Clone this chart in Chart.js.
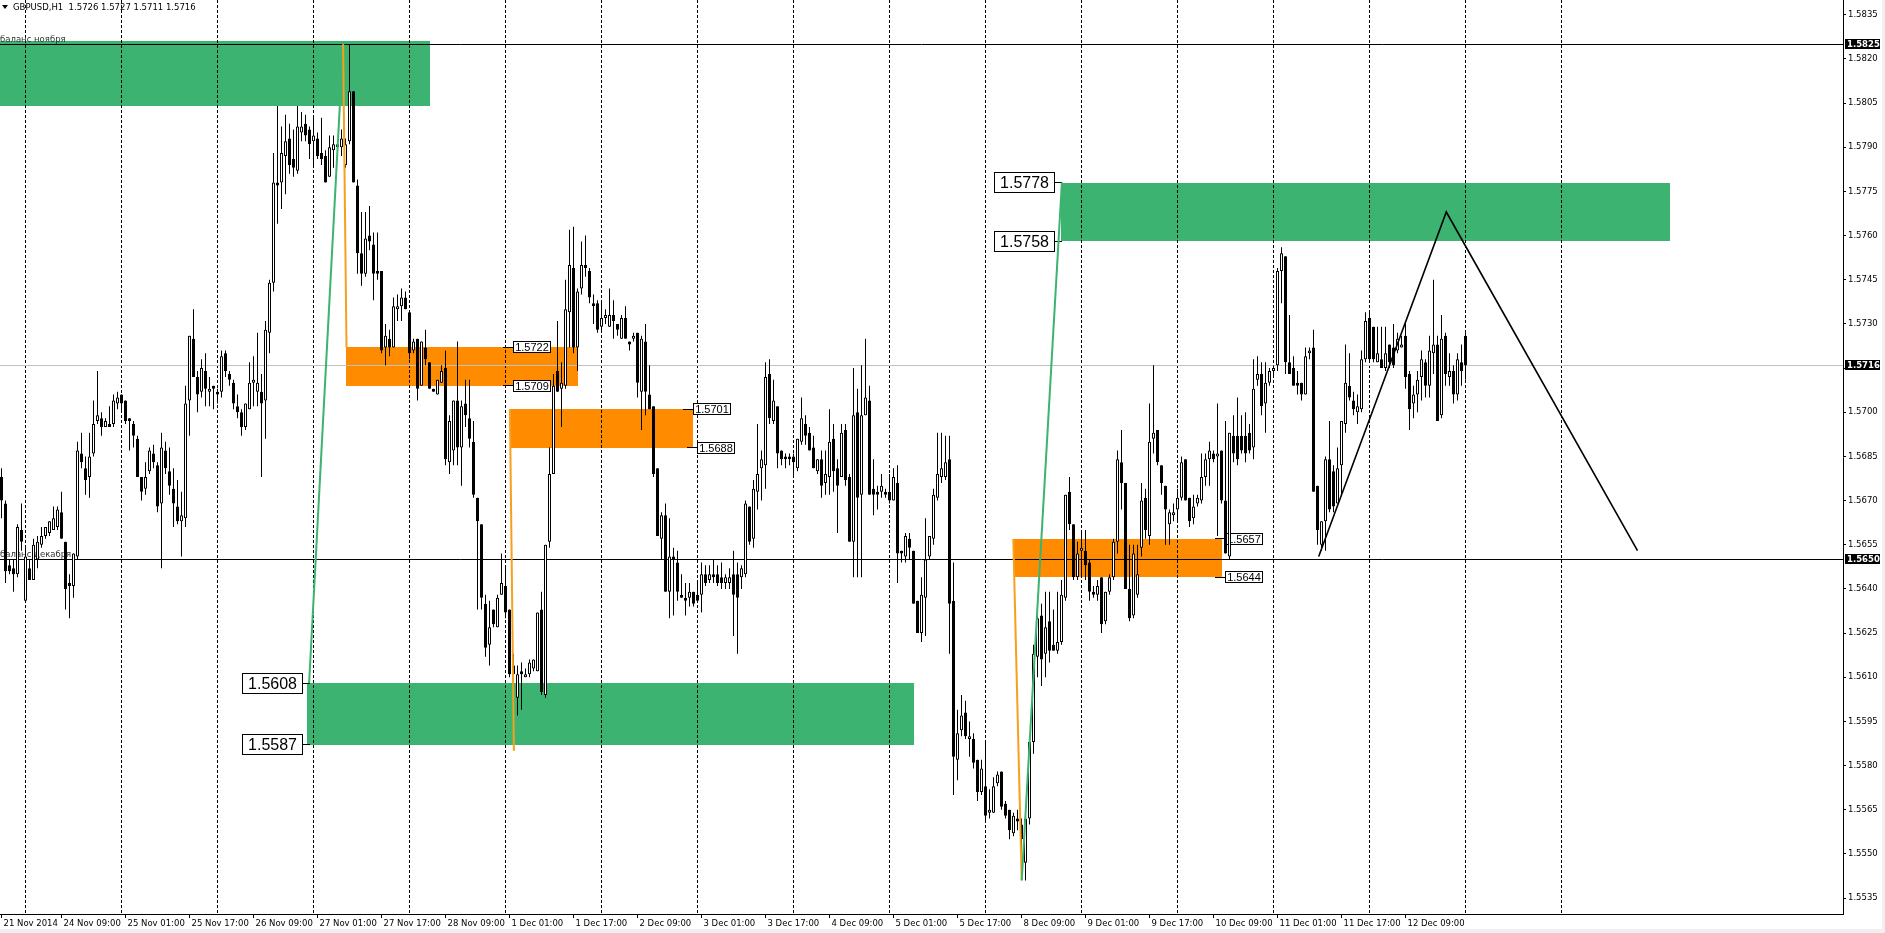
<!DOCTYPE html>
<html>
<head>
<meta charset="utf-8">
<script src="https://cdn.jsdelivr.net/npm/chart.js@4.4.1/dist/chart.umd.min.js"></script>
<style>
html, body { margin: 0; padding: 0; background: #f0f0f0; }
#wrap { width: 1885px; height: 933px; }
canvas { display: block; }
</style>
</head>
<body>
<div id="wrap"><canvas id="chart" width="1885" height="933" style="width:1885px;height:933px"></canvas></div>
<script>
// GBPUSD H1, 21 Nov 2014 - 12 Dec 2014
// цены свечей записаны в пунктах над 1.5500 (178 -> 1.5678)
const symbolName = 'GBPUSD,H1';
const PRICE_BASE = 1.55;
const PIP = 0.0001;

const openPips = [
    178,169,148,147,145,160,136,147,143,150, 155,158,159,160,161,166,156,142,141,151,
    186,181,178,186,197,198,195,196,196,203, 206,204,198,196,191,178,174,180,186,182,
    169,187,180,174,168,163,164,204,225,212, 207,214,207,209,207,207,220,213,210,202,
    200,195,201,210,207,207,204,227,244,278, 278,287,293,286,282,295,298,296,292,293,
    288,287,280,289,290,290,284,292,309,277, 254,247,260,257,248,248,222,225,222,235,
    236,239,234,221,225,209,222,217,208,206, 210,215,183,187,204,188,203,198,190,171,
    162,135,121,133,127,138,141,133,114,103, 112,110,111,113,112,133,104,156,179,214,
    208,209,234,249,222,242,250,248,237,237, 229,232,229,233,230,225,232,224,225,227,
    207,224,206,202,181,157,165,139,151,149, 138,137,137,139,138,138,145,143,145,145,
    144,142,142,145,145,144,145,168,157,173, 181,182,213,197,202,187,185,185,185,181,
    190,196,193,188,180,184,176,178,191,181, 178,194,178,156,200,172,199,204,174,173,
    173,173,173,170,176,153,151,157,153,136, 125,137,151,157,171,178,178,184,136,82,
    92,98,89,89,82,71,73,64,64,74, 78,67,65,57,62,60,47,62,88,117,
    131,118,129,121,119,122,137,173,162,144, 153,153,149,139,138,144,129,139,144,156,
    183,176,140,131,138,154,171,158,191,194, 182,175,162,165,167,171,184,171,164,169,
    170,178,184,186,185,187,170,151,192,192, 192,192,193,188,211,213,203,210,214,216,
    248,253,217,215,210,210,206,220,222,175, 155,163,184,180,169,182,196,209,204,200,
    201,218,232,229,217,218,215,223,222,221, 222,226,213,203,206,212,217,209,220,223,
    199,226,212,214,206,217,226
];
const highPips = [
    181,170,150,150,162,169,154,150,157,158, 161,161,163,168,168,173,156,145,152,190,
    193,185,193,204,214,200,198,202,206,207, 206,204,198,197,192,178,183,188,189,183,
    193,190,188,181,177,173,209,226,235,214, 218,220,212,209,208,221,221,214,211,206,
    201,203,217,219,227,213,231,245,288,304, 297,301,298,296,304,302,301,297,300,295,
    300,289,294,294,292,296,293,325,309,279, 268,268,270,261,261,248,230,228,239,240,
    242,241,234,225,225,224,228,217,208,211, 216,221,199,204,224,204,211,211,197,171,
    162,138,136,133,138,152,148,133,118,114, 115,113,116,116,132,139,155,188,213,231,
    217,245,262,263,242,258,260,249,240,238, 238,235,242,238,230,233,236,224,227,227,
    226,230,216,202,181,166,169,164,154,153, 145,142,142,139,142,149,148,148,150,148,
    149,145,147,153,149,148,170,168,177,196, 187,217,218,211,202,187,186,186,186,191,
    205,199,195,192,184,187,187,201,196,184, 196,196,179,215,208,216,225,209,184,175,
    179,174,179,181,182,153,159,159,153,136, 144,164,158,174,193,193,192,192,149,99,
    104,102,95,91,82,82,88,72,76,78, 78,68,65,64,65,62,66,90,121,131,
    135,139,139,133,139,143,172,178,162,156, 160,160,150,141,143,144,139,145,157,187,
    194,176,155,155,155,176,174,203,216,194, 182,175,167,169,174,185,184,171,172,172,
    186,186,190,187,203,187,197,193,199,205, 199,200,196,218,219,217,217,215,216,249,
    256,253,233,219,214,210,222,222,228,175, 163,185,197,182,188,197,223,220,207,206,
    221,234,234,229,229,229,229,223,230,227, 226,231,214,209,214,221,218,226,245,226,
    233,227,220,216,220,223,227
];
const lowPips = [
    164,142,145,139,144,153,136,143,143,147, 154,157,158,160,160,157,133,130,137,150,
    181,172,171,185,196,192,195,195,195,201, 200,196,187,188,178,170,172,179,181,166,
    147,179,172,161,162,151,161,192,212,200, 205,202,202,201,203,205,212,209,201,198,
    192,194,201,202,202,178,191,220,241,264, 269,274,281,280,281,292,292,286,284,286,
    284,278,280,283,286,287,283,291,278,247, 243,246,255,238,245,220,216,219,222,231,
    231,235,218,220,204,209,216,208,207,206, 210,182,179,182,182,175,195,188,171,133,
    133,117,114,127,127,138,130,110,99,97, 99,110,110,112,112,104,103,154,179,207,
    195,208,222,220,214,240,246,237,230,227, 227,230,229,225,226,225,225,221,224,205,
    194,199,201,178,158,150,139,130,131,136, 137,131,134,134,136,132,141,142,142,141,
    140,140,140,124,118,140,144,155,154,167, 170,174,196,196,181,182,181,182,178,180,
    189,189,187,181,179,171,172,172,173,159, 178,175,156,144,144,144,199,172,165,167,
    171,171,169,170,142,149,149,150,135,125, 122,124,150,155,170,176,177,118,70,75,
    90,89,83,79,68,70,61,62,64,73, 65,62,55,56,58,51,41,60,84,110,
    107,110,115,119,118,121,136,160,143,143, 144,143,136,137,136,125,128,138,143,152,
    167,140,129,130,137,151,157,155,186,182, 172,155,155,163,163,170,170,161,162,168,
    169,175,175,183,158,169,152,150,183,182, 186,183,186,184,209,199,193,209,212,214,
    237,213,213,209,206,204,206,218,173,155, 153,153,166,166,169,172,193,204,199,196,
    200,217,217,217,217,215,214,215,215,220, 222,208,194,198,200,204,205,205,213,197,
    198,209,209,203,204,209,211
];
const closePips = [
    170,146,146,145,161,156,151,143,155,156, 158,161,163,164,167,157,140,141,152,187,
    183,177,185,196,199,195,197,195,204,205, 203,197,197,192,178,173,178,187,183,168,
    188,181,175,169,163,165,203,226,212,206, 215,208,208,208,206,219,214,211,203,200,
    195,203,210,211,210,203,228,244,278,277, 288,292,284,283,297,297,294,291,294,287,
    286,278,290,291,291,293,291,309,278,254, 247,259,258,247,247,221,226,222,236,236,
    239,235,220,224,208,224,218,208,207,211, 214,184,197,204,188,202,199,191,172,163,
    137,120,127,128,137,142,132,111,111,111, 111,111,115,116,132,105,155,179,209,207,
    210,235,250,222,241,250,249,239,236,228, 232,233,233,231,228,232,225,223,226,210,
    225,207,201,179,158,165,139,151,150,139, 137,136,139,135,136,145,142,145,144,142,
    142,144,144,138,137,147,169,156,174,179, 184,212,198,204,186,184,184,184,183,191,
    198,192,187,181,184,175,179,190,180,175, 193,177,156,199,171,199,205,172,172,172,
    175,172,170,178,152,152,158,154,135,125, 138,150,158,172,179,181,183,135,83,91,
    97,90,90,81,71,79,63,65,73,77, 66,63,58,63,61,55,62,88,118,130,
    116,127,119,119,122,138,172,162,144,152, 154,148,139,138,141,128,139,144,156,184,
    176,140,130,152,145,170,160,190,193,183, 176,167,166,166,171,183,170,163,168,171,
    178,184,187,184,186,170,152,193,186,184, 187,186,187,208,213,202,210,214,215,248,
    254,217,213,209,209,206,219,221,173,160, 163,184,167,168,181,197,210,205,201,202,
    218,231,218,218,220,215,220,217,216,225, 223,212,201,206,211,218,209,221,223,197,
    225,213,214,206,218,214,216
];

// шкала времени: номер бара -> подпись
const timeLabels = ['21 Nov 2014', '24 Nov 09:00', '25 Nov 01:00', '25 Nov 17:00', '26 Nov 09:00',
    '27 Nov 01:00', '27 Nov 17:00', '28 Nov 09:00', '1 Dec 01:00', '1 Dec 17:00', '2 Dec 09:00',
    '3 Dec 01:00', '3 Dec 17:00', '4 Dec 09:00', '5 Dec 01:00', '5 Dec 17:00', '8 Dec 09:00',
    '9 Dec 01:00', '9 Dec 17:00', '10 Dec 09:00', '11 Dec 01:00', '11 Dec 17:00', '12 Dec 09:00'];
const timeLabelBars = [0, 15, 31, 47, 63, 79, 95, 111, 127, 143, 159, 175, 191, 207, 223, 239, 255, 271, 287, 303, 319, 335, 351];
const dayStartBars = [6, 30, 54, 78, 102, 126, 150, 174, 198, 222, 246, 270, 294, 318, 342, 366, 390];

// шкала цен
const priceTicks = [1.5535, 1.5550, 1.5565, 1.5580, 1.5595, 1.5610, 1.5625, 1.5640, 1.5655, 1.5670, 1.5685,
    1.5700, 1.5715, 1.5730, 1.5745, 1.5760, 1.5775, 1.5790, 1.5805, 1.5820, 1.5835];
const PRICE_MIN = 1.55296;
const PRICE_MAX = 1.58400;
const BAR_MIN = -0.375;
const BAR_MAX = 460.375;

// горизонтальные уровни
const hLinePrices = [1.5825, 1.5650];
const hLineNames = ['баланс ноября', 'баланс декабря'];

// зоны (прямоугольники)
const zoneFromBar = [-2, 76.3, 86, 127.1, 264.75, 253.1];
const zoneToBar = [107.1, 228.1, 144.1, 172.9, 417.1, 305.1];
const zoneHigh = [1.5826, 1.5608, 1.5722, 1.5701, 1.5778, 1.5657];
const zoneLow = [1.5804, 1.5587, 1.5709, 1.5688, 1.5758, 1.5644];
const zoneKind = ['buy', 'buy', 'sell', 'sell', 'buy', 'sell'];

// ценовые метки
const levelPrices = [1.5778, 1.5758, 1.5608, 1.5587, 1.5722, 1.5709, 1.5701, 1.5688, 1.5657, 1.5644];
const levelBars = [265, 265, 77.1, 77.1, 125.4, 125.4, 170.4, 171.4, 303.4, 303.4];
const levelSide = ['left', 'left', 'left', 'left', 'right', 'right', 'right', 'right', 'right', 'right'];

// трендовые линии
const lineBars = [[76.9, 85.4], [85.4, 86.25], [127.1, 128.1], [252.95, 255.05], [255.05, 265.1], [329.3, 361.2, 409.0]];
const linePrices = [[1.5608, 1.5825], [1.5825, 1.5722], [1.5701, 1.5585], [1.5657, 1.5541], [1.5541, 1.5778], [1.5651, 1.5768, 1.5653]];
const lineKind = ['buy', 'sell', 'sell', 'sell', 'buy', 'wave'];

const kindColors = { buy: '#3cb371', sell: '#ff8c00' };
const lineColors = { buy: '#3cb371', sell: '#f5a01e', wave: '#000000' };
const lineWidths = { buy: 2, sell: 2, wave: 1.6 };

const FONT = '"DejaVu Sans", Tahoma, sans-serif';

function toPrice(p) {
    return PRICE_BASE + p * PIP;
}

const wickData = highPips.map((h, i) => ({ x: i, y: [toPrice(lowPips[i]), toPrice(h)] }));
const bodyData = openPips.map((o, i) => ({ x: i, y: [toPrice(o), toPrice(closePips[i])] }));
const bodyFill = openPips.map((o, i) => closePips[i] >= o ? '#ffffff' : '#000000');

function crisp(v) {
    return Math.round(v - 0.5) + 0.5;
}

function drawLevelLabel(ctx, x, y, text, side) {
    ctx.save();
    ctx.lineWidth = 1;
    ctx.strokeStyle = '#000';
    if (side === 'left') {
        ctx.font = '16px "Liberation Sans", Arial, sans-serif';
        const w = Math.round(ctx.measureText(text).width) + 12;
        const h = 21;
        const bx = Math.round(x) - 7 - w;
        const by = Math.round(y - h / 2);
        ctx.beginPath();
        ctx.moveTo(bx + w, crisp(y));
        ctx.lineTo(Math.round(x), crisp(y));
        ctx.stroke();
        ctx.fillStyle = '#fff';
        ctx.fillRect(bx, by, w, h);
        ctx.strokeRect(bx + 0.5, by + 0.5, w - 1, h - 1);
        ctx.fillStyle = '#000';
        ctx.textAlign = 'center';
        ctx.textBaseline = 'middle';
        ctx.fillText(text, bx + w / 2, by + h / 2 + 1);
    } else {
        ctx.font = '11px "Liberation Sans", Arial, sans-serif';
        const w = Math.round(ctx.measureText(text).width) + 4;
        const h = 12;
        const bx = Math.round(x) + 10;
        const by = Math.round(y - h / 2);
        ctx.beginPath();
        ctx.moveTo(Math.round(x), crisp(y));
        ctx.lineTo(bx, crisp(y));
        ctx.stroke();
        ctx.fillStyle = '#fff';
        ctx.fillRect(bx, by, w, h);
        ctx.strokeRect(bx + 0.5, by + 0.5, w - 1, h - 1);
        ctx.fillStyle = '#000';
        ctx.textAlign = 'center';
        ctx.textBaseline = 'middle';
        ctx.fillText(text, bx + w / 2, by + h / 2 + 1);
    }
    ctx.restore();
}

function drawAxisMarker(ctx, chart, price) {
    const y = chart.scales.y.getPixelForValue(price);
    const x0 = chart.chartArea.right + 2;
    ctx.save();
    ctx.fillStyle = '#000';
    ctx.fillRect(x0, Math.round(y) - 5, 35, 10);
    ctx.fillStyle = '#fff';
    ctx.font = 'bold 8.5px ' + FONT;
    ctx.textAlign = 'left';
    ctx.textBaseline = 'middle';
    ctx.fillText(price.toFixed(4), x0 + 2, Math.round(y) + 0.5);
    ctx.restore();
}

const mt4Plugin = {
    id: 'mt4',
    beforeDraw(chart) {
        const ctx = chart.ctx;
        ctx.save();
        ctx.fillStyle = '#ffffff';
        ctx.fillRect(0, 0, 1882, 929);
        ctx.restore();
    },
    beforeDatasetsDraw(chart) {
        const ctx = chart.ctx;
        const xs = chart.scales.x, ys = chart.scales.y;
        const area = chart.chartArea;
        ctx.save();
        ctx.beginPath();
        ctx.rect(area.left, area.top, area.right - area.left, area.bottom - area.top);
        ctx.clip();

        // зоны
        zoneFromBar.forEach((from, i) => {
            const x1 = Math.round(xs.getPixelForValue(from));
            const x2 = Math.round(xs.getPixelForValue(zoneToBar[i]));
            const y1 = Math.round(ys.getPixelForValue(zoneHigh[i]));
            const y2 = Math.round(ys.getPixelForValue(zoneLow[i]));
            ctx.fillStyle = kindColors[zoneKind[i]];
            ctx.fillRect(x1, y1, x2 - x1, y2 - y1);
        });

        // вертикальная сетка по дням
        ctx.strokeStyle = '#000';
        ctx.lineWidth = 1;
        ctx.setLineDash([3, 2]);
        dayStartBars.forEach(b => {
            const x = crisp(xs.getPixelForValue(b));
            ctx.beginPath();
            ctx.moveTo(x, area.top);
            ctx.lineTo(x, area.bottom);
            ctx.stroke();
        });
        ctx.setLineDash([]);

        // линия текущей цены
        const lastClose = toPrice(closePips[closePips.length - 1]);
        const yb = crisp(ys.getPixelForValue(lastClose));
        ctx.strokeStyle = '#c0c0c0';
        ctx.beginPath();
        ctx.moveTo(area.left, yb);
        ctx.lineTo(area.right, yb);
        ctx.stroke();

        // горизонтальные уровни с подписями
        hLinePrices.forEach((p, i) => {
            const y = crisp(ys.getPixelForValue(p));
            ctx.strokeStyle = '#000';
            ctx.beginPath();
            ctx.moveTo(area.left, y);
            ctx.lineTo(area.right, y);
            ctx.stroke();
            ctx.fillStyle = '#333';
            ctx.font = '8.5px ' + FONT;
            ctx.textAlign = 'left';
            ctx.textBaseline = 'alphabetic';
            ctx.fillText(hLineNames[i], 0, y - 2.5);
        });

        // ценовые метки
        levelPrices.forEach((p, i) => {
            drawLevelLabel(ctx, xs.getPixelForValue(levelBars[i]), ys.getPixelForValue(p), p.toFixed(4), levelSide[i]);
        });
        ctx.restore();
    },
    afterDatasetsDraw(chart) {
        const ctx = chart.ctx;
        const xs = chart.scales.x, ys = chart.scales.y;
        const area = chart.chartArea;
        ctx.save();
        ctx.beginPath();
        ctx.rect(area.left, area.top, area.right - area.left, area.bottom - area.top);
        ctx.clip();
        lineBars.forEach((bars, i) => {
            ctx.strokeStyle = lineColors[lineKind[i]];
            ctx.lineWidth = lineWidths[lineKind[i]];
            ctx.lineJoin = 'miter';
            ctx.beginPath();
            bars.forEach((b, k) => {
                const x = xs.getPixelForValue(b);
                const y = ys.getPixelForValue(linePrices[i][k]);
                if (k === 0) ctx.moveTo(x, y); else ctx.lineTo(x, y);
            });
            ctx.stroke();
        });
        ctx.restore();

        // заголовок
        const last = closePips.length - 1;
        ctx.save();
        ctx.fillStyle = '#000';
        ctx.beginPath();
        ctx.moveTo(2, 5);
        ctx.lineTo(8, 5);
        ctx.lineTo(5, 9);
        ctx.closePath();
        ctx.fill();
        ctx.font = '8.5px ' + FONT;
        ctx.textAlign = 'left';
        ctx.textBaseline = 'middle';
        const head = symbolName + '  ' + [openPips[last], highPips[last], lowPips[last], closePips[last]]
            .map(v => toPrice(v).toFixed(4)).join(' ');
        ctx.fillText(head, 13, 7.5);
        ctx.restore();
    },
    afterDraw(chart) {
        const ctx = chart.ctx;
        drawAxisMarker(ctx, chart, hLinePrices[0]);
        drawAxisMarker(ctx, chart, toPrice(closePips[closePips.length - 1]));
        drawAxisMarker(ctx, chart, hLinePrices[1]);
    }
};

const chart = new Chart(document.getElementById('chart'), {
    type: 'bar',
    data: {
        datasets: [
            {
                label: 'wick',
                data: wickData,
                backgroundColor: '#000',
                borderWidth: 0,
                barThickness: 1,
                minBarLength: 1,
                grouped: false,
                inflateAmount: 0,
                order: 2
            },
            {
                label: 'body',
                data: bodyData,
                backgroundColor: bodyFill,
                borderColor: '#000',
                borderWidth: 1,
                borderSkipped: false,
                barThickness: 3,
                minBarLength: 1,
                grouped: false,
                inflateAmount: 0,
                order: 1
            }
        ]
    },
    options: {
        responsive: false,
        animation: false,
        events: [],
        layout: { padding: 0 },
        plugins: {
            legend: { display: false },
            tooltip: { enabled: false }
        },
        scales: {
            x: {
                type: 'linear',
                position: 'bottom',
                min: BAR_MIN,
                max: BAR_MAX,
                offset: false,
                grid: { display: true, offset: false, drawOnChartArea: false, drawTicks: true, tickLength: 4, color: '#000' },
                border: { display: true, color: '#000', width: 1 },
                ticks: {
                    autoSkip: false,
                    maxRotation: 0,
                    minRotation: 0,
                    align: 'start',
                    labelOffset: 2,
                    padding: 1,
                    color: '#000',
                    font: { family: FONT, size: 8.5 },
                    callback: (v, idx) => timeLabels[idx]
                },
                afterBuildTicks: s => { s.ticks = timeLabelBars.map(b => ({ value: b })); },
                afterFit: s => { s.height = 19; s.paddingLeft = 0; s.paddingRight = 0; }
            },
            y: {
                type: 'linear',
                position: 'right',
                min: PRICE_MIN,
                max: PRICE_MAX,
                grid: { display: true, drawOnChartArea: false, drawTicks: true, tickLength: 3, color: '#000' },
                border: { display: true, color: '#000', width: 1 },
                ticks: {
                    padding: 2,
                    color: '#000',
                    font: { family: FONT, size: 8.5 },
                    callback: v => v.toFixed(4)
                },
                afterBuildTicks: s => { s.ticks = priceTicks.map(v => ({ value: v })); },
                afterFit: s => { s.width = 42; s.paddingTop = 0; s.paddingBottom = 0; }
            }
        }
    },
    plugins: [mt4Plugin]
});
</script>
</body>
</html>
